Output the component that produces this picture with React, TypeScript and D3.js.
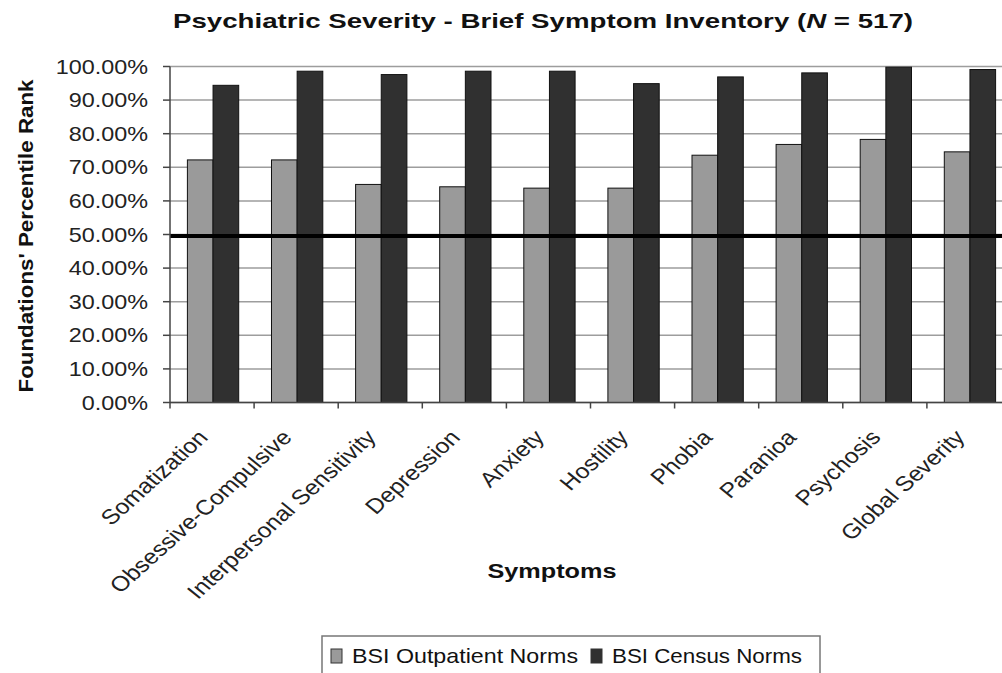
import React from "react";
import * as d3 from "d3";

const categories = [
  "Somatization",
  "Obsessive-Compulsive",
  "Interpersonal Sensitivity",
  "Depression",
  "Anxiety",
  "Hostility",
  "Phobia",
  "Paranioa",
  "Psychosis",
  "Global Severity",
];
const seriesNames = ["BSI Outpatient Norms", "BSI Census Norms"];
const outpatient = [72.2, 72.2, 64.9, 64.2, 63.8, 63.8, 73.6, 76.8, 78.3, 74.6];
const census = [94.4, 98.6, 97.6, 98.6, 98.6, 94.9, 96.9, 98.1, 99.8, 99.1];
const yTicks = [0, 10, 20, 30, 40, 50, 60, 70, 80, 90, 100];
const refValue = 50;

const W = 1002;
const H = 673;
const left = 170;
const right = 1011;
const top = 66.5;
const bottom = 402.5;
const colors = ["#9a9a9a", "#303030"];
const font = "'Liberation Sans', Arial, sans-serif";
// the source picture is a bit wider than tall, text looks stretched
const stretch = 1.17;

export default function App() {
  const x = d3
    .scaleBand<string>()
    .domain(categories)
    .range([left, right])
    .paddingInner(0.39)
    .paddingOuter(0.195);
  const sub = d3
    .scaleBand<string>()
    .domain(seriesNames)
    .range([0, x.bandwidth()]);
  const y = d3.scaleLinear().domain([0, 100]).range([bottom, top]);
  const step = x.step();
  const series = [outpatient, census];

  return (
    <svg
      width={W}
      height={H}
      style={{ position: "absolute", left: 0, top: 0, background: "#fff" }}
      fontFamily={font}
    >
      {/* title */}
      <text
        x={543}
        y={28}
        textAnchor="middle"
        fontSize={21}
        fontWeight="bold"
        fill="#111"
        textLength={740}
        lengthAdjust="spacingAndGlyphs"
      >
        Psychiatric Severity - Brief Symptom Inventory (<tspan fontStyle="italic">N</tspan> = 517)
      </text>

      {/* gridlines */}
      {yTicks.map((t) => (
        <line key={t} x1={left} x2={right} y1={y(t)} y2={y(t)} stroke="#9d9d9d" strokeWidth={1.5} />
      ))}

      {/* bars */}
      {categories.map((c, i) => (
        <g key={c} transform={`translate(${(x(c) ?? 0) + 1},0)`}>
          {series.map((s, j) => (
            <rect
              key={j}
              x={sub(seriesNames[j])}
              y={y(s[i])}
              width={sub.bandwidth()}
              height={y(0) - y(s[i])}
              fill={colors[j]}
              stroke="#111"
              strokeWidth={1}
            />
          ))}
        </g>
      ))}

      {/* reference line */}
      <line x1={left} x2={right} y1={y(refValue) + 1.5} y2={y(refValue) + 1.5} stroke="#000" strokeWidth={4} />

      {/* y axis */}
      <line x1={left} x2={left} y1={top} y2={bottom} stroke="#444" strokeWidth={1.5} />
      {yTicks.map((t) => (
        <g key={t}>
          <line x1={left - 7} x2={left} y1={y(t)} y2={y(t)} stroke="#444" strokeWidth={1.5} />
          <text
            transform={`translate(148,${y(t) + 7}) scale(${stretch},1)`}
            textAnchor="end"
            fontSize={20}
            fill="#222"
          >
            {t.toFixed(2)}%
          </text>
        </g>
      ))}

      {/* x axis */}
      <line x1={left} x2={right} y1={bottom} y2={bottom} stroke="#444" strokeWidth={1.5} />
      {d3.range(categories.length + 1).map((k) => (
        <line
          key={k}
          x1={left + k * step}
          x2={left + k * step}
          y1={bottom}
          y2={bottom + 6}
          stroke="#444"
          strokeWidth={1.5}
        />
      ))}
      {categories.map((c) => {
        const cx = (x(c) ?? 0) + x.bandwidth() / 2;
        return (
          <text
            key={c}
            transform={`translate(${cx - 3},${bottom + 36}) scale(${stretch},1) rotate(-46.5)`}
            textAnchor="end"
            fontSize={21}
            fill="#222"
          >
            {c}
          </text>
        );
      })}

      {/* axis titles */}
      <text
        x={552}
        y={578}
        textAnchor="middle"
        fontSize={20}
        fontWeight="bold"
        fill="#111"
        textLength={129}
        lengthAdjust="spacingAndGlyphs"
      >
        Symptoms
      </text>
      <text
        transform={`translate(33,236) rotate(-90)`}
        textAnchor="middle"
        fontSize={20}
        fontWeight="bold"
        fill="#111"
        textLength={313}
        lengthAdjust="spacingAndGlyphs"
      >
        Foundations' Percentile Rank
      </text>

      {/* legend */}
      <rect x={322} y={636} width={498} height={60} fill="#fff" stroke="#777" strokeWidth={1.5} />
      {seriesNames.map((n, j) => {
        const lx = j === 0 ? 331 : 591;
        const len = j === 0 ? 226 : 190;
        return (
          <g key={n}>
            <rect x={lx} y={649} width={11} height={14} fill={colors[j]} stroke="#333" strokeWidth={1} />
            <text
              x={lx + 21}
              y={663}
              fontSize={21}
              fill="#111"
              textLength={len}
              lengthAdjust="spacingAndGlyphs"
            >
              {n}
            </text>
          </g>
        );
      })}
    </svg>
  );
}
